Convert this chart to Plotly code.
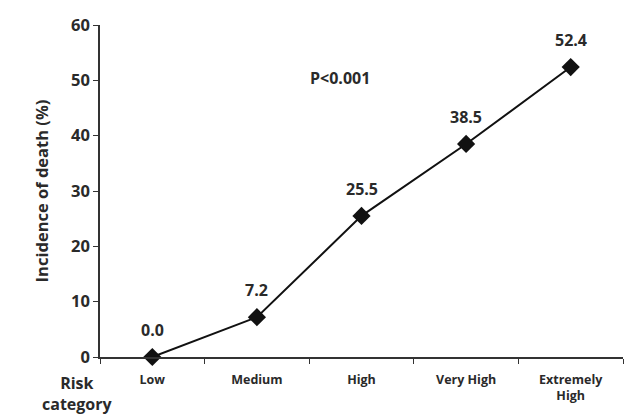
import plotly.graph_objects as go

categories = ["Low", "Medium", "High", "Very High", "Extremely<br>High"]
incidence = [0.0, 7.2, 25.5, 38.5, 52.4]
value_labels = ["0.0", "7.2", "25.5", "38.5", "52.4"]
y_ticks = [0, 10, 20, 30, 40, 50, 60]

FONT = "Open Sans"
TXT = "#2a2a2a"

def f(size):
    return dict(family=FONT, size=size, color=TXT, weight="bold")

fig = go.Figure()
fig.add_trace(go.Scatter(
    x=categories, y=incidence, mode="lines+markers",
    line=dict(color="#111111", width=2),
    marker=dict(symbol="diamond", size=14, color="#111111"),
    showlegend=False, cliponaxis=False,
))

for c, v, t in zip(categories, incidence, value_labels):
    fig.add_annotation(x=c, y=v, text=t, showarrow=False,
                       yshift=27, font=f(16))

fig.add_annotation(xref="paper", yref="paper", x=0.458, y=0.88,
                   text="P<0.001", showarrow=False, font=f(16))
fig.add_annotation(xref="paper", yref="paper", x=-0.115, y=-0.04,
                   text="Risk<br>category", showarrow=False, yanchor="top",
                   font=f(16))

fig.update_layout(
    width=624, height=414,
    margin=dict(l=100, r=1, t=25, b=57),
    paper_bgcolor="white", plot_bgcolor="white",
    font=dict(family=FONT, color=TXT),
)
fig.update_xaxes(
    type="category", range=[-0.5, 4.5],
    showline=True, linecolor="#333333", linewidth=1.5,
    ticks="outside", tickson="boundaries", ticklen=5, tickcolor="#333333",
    showgrid=False, zeroline=False,
    tickfont=f(12.5), ticklabelstandoff=10,
)
fig.update_yaxes(
    range=[0, 60], tickvals=y_ticks,
    showline=True, linecolor="#333333", linewidth=1.5,
    ticks="outside", ticklen=5, tickcolor="#333333",
    showgrid=False, zeroline=False,
    tickfont=f(16.5),
    title=dict(text="Incidence of death (%)", standoff=18, font=f(16.5)),
)

fig.write_html("out.html", config={"displayModeBar": False},
               post_script="document.body.style.margin='0';document.body.style.padding='0';")
